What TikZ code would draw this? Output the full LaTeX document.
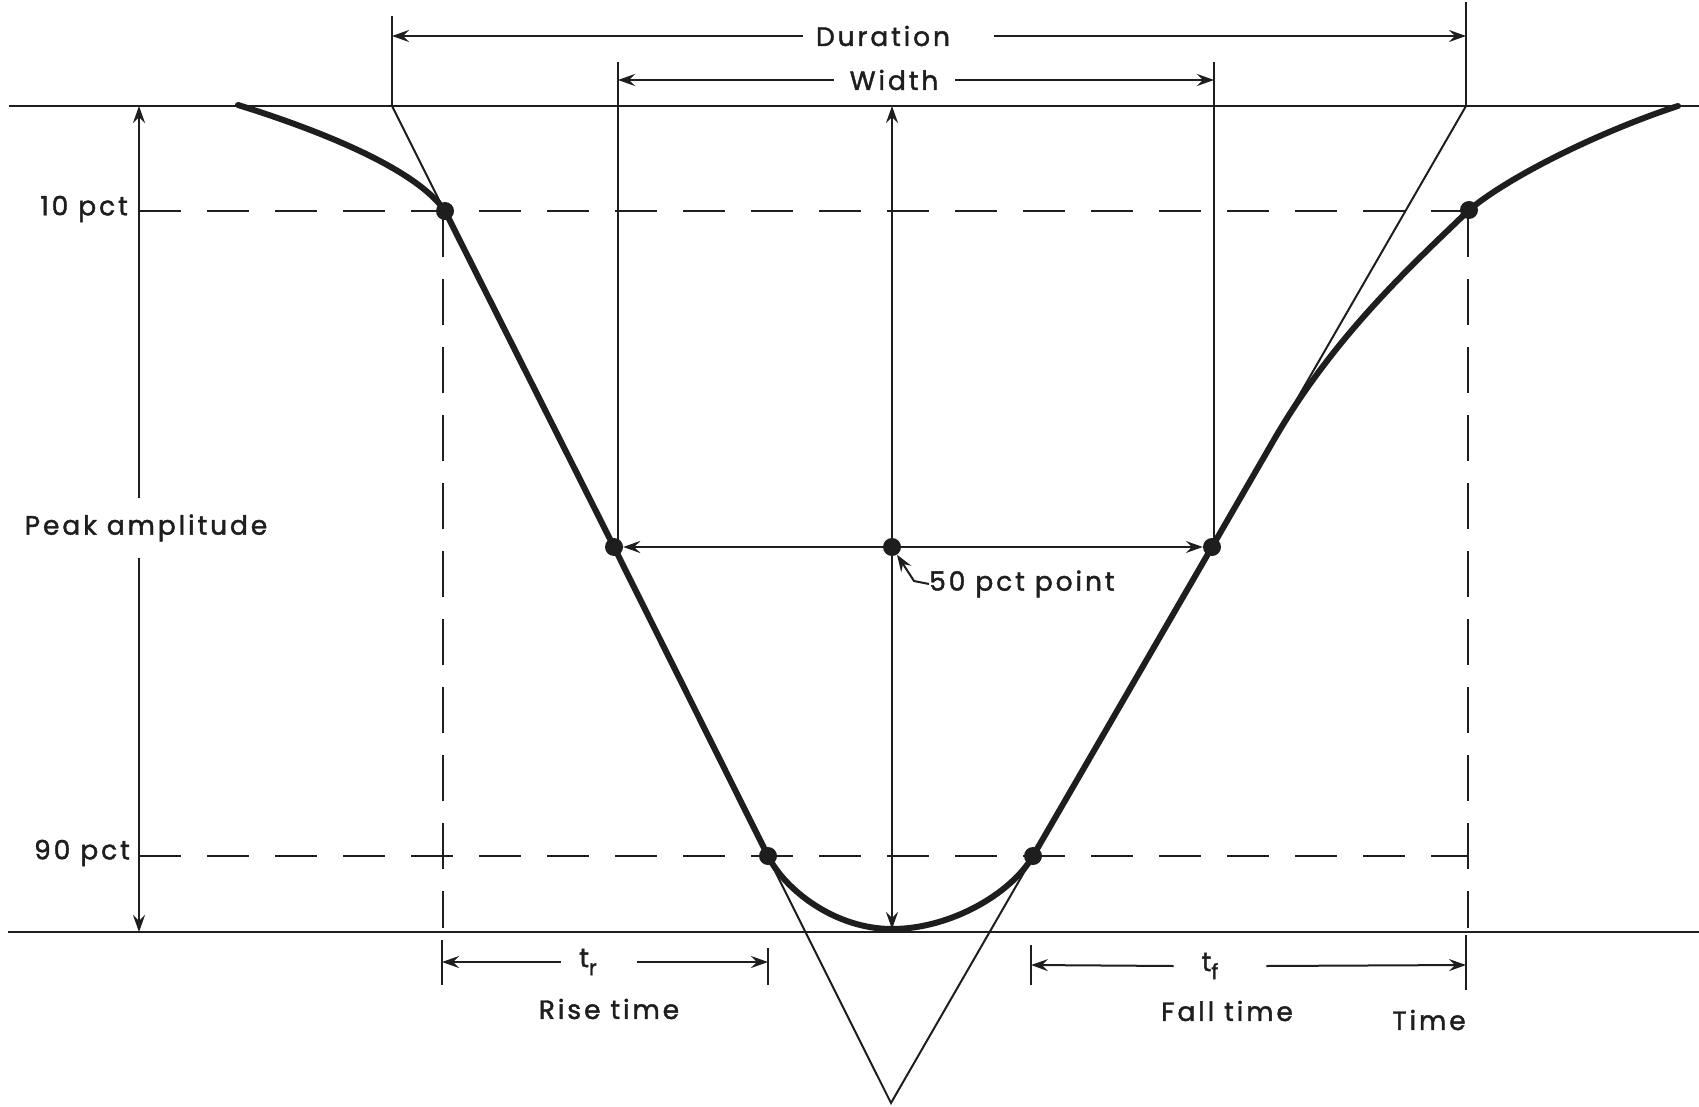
\documentclass[tikz,border=0pt]{standalone}
\usepackage{fontspec}
\setmainfont{Poppins}[LetterSpace=11, FakeBold=1.6]
\usetikzlibrary{arrows.meta}
\definecolor{ink}{HTML}{1E1E1E}
\begin{document}
\begin{tikzpicture}[x=1pt,y=-1pt,
  thinl/.style={line width=2pt, draw=ink},
  curve/.style={line width=6pt, draw=ink, line join=round, line cap=round},
  dashl/.style={line width=2.2pt, draw=ink, dash pattern=on 42pt off 26pt},
  dashv/.style={line width=2.2pt, draw=ink, dash pattern=on 46pt off 22pt},
  arr/.style={-{Stealth[length=17pt,width=12pt,inset=6pt]}},
  darr/.style={{Stealth[length=17pt,width=12pt,inset=6pt]}-{Stealth[length=17pt,width=12pt,inset=6pt]}},
  dotnode/.style={circle, fill=ink, inner sep=0pt, minimum size=18pt},
  lbl/.style={font=\fontsize{26.5}{30}\selectfont, inner sep=0pt, text=ink}
]
\useasboundingbox (0,0) rectangle (1699,1107);

% base lines
\coordinate (TL) at (9,106);
\coordinate (TR) at (1699,106);
\coordinate (BL) at (8,932);
\coordinate (BR) at (1699,932);
\draw[thinl] (TL) -- (TR);
\draw[thinl] (BL) -- (BR);

% tangent lines
\coordinate (tanL) at (392,106);
\coordinate (tanR) at (1466,106);
\coordinate (apex) at (891,1103);
\draw[thinl] (tanL) -- (apex) -- (tanR);

% dashed level lines
\coordinate (h10a) at (139,211);
\coordinate (h10b) at (1469,211);
\coordinate (h90a) at (139,856);
\coordinate (h90b) at (1468,856);
\draw[dashl] (h10a) -- (h10b);
\draw[dashl] (h90a) -- (h90b);
\coordinate (vLa) at (443,211);
\coordinate (vLb) at (443,928);
\coordinate (vRa) at (1468,211);
\coordinate (vRb) at (1468,928);
\draw[dashv] (vLa) -- (vLb);
\draw[dashv] (vRa) -- (vRb);

% duration
\node[lbl] (lDur) at (883,36) {Duration};
\coordinate (durL) at (392,36);
\coordinate (durR) at (1466,36);
\coordinate (durLt) at (392,16);
\coordinate (durRt) at (1466,2);
\draw[thinl] (durLt) -- (tanL);
\draw[thinl] (durRt) -- (tanR);
\draw[thinl, arr] ([xshift=-13pt]lDur.west) -- (durL);
\draw[thinl, arr] ([xshift=44pt]lDur.east) -- (durR);

% width
\node[lbl] (lWid) at (894,80) {Width};
\coordinate (widL) at (618,80);
\coordinate (widR) at (1214,80);
\coordinate (widLt) at (618,62);
\coordinate (widRt) at (1214,62);
\coordinate (widLb) at (618,545);
\coordinate (widRb) at (1214,545);
\draw[thinl] (widLt) -- (widLb);
\draw[thinl] (widRt) -- (widRb);
\draw[thinl, arr] ([xshift=-16pt]lWid.west) -- (widL);
\draw[thinl, arr] ([xshift=17pt]lWid.east) -- (widR);

% central amplitude arrow
\coordinate (cTop) at (892,106);
\coordinate (cBot) at (892,929);
\draw[thinl, darr] (cTop) -- (cBot);

% peak amplitude arrow
\coordinate (pTop) at (139,106);
\coordinate (pBot) at (139,932);
\draw[thinl, darr] (pTop) -- (pBot);
\node[lbl, fill=white, inner ysep=16pt, inner xsep=0pt] (lPeak) at (146,528) {Peak amplitude};

% dots
\node[dotnode] (d10L) at (445,211) {};
\node[dotnode] (d50L) at (614,547) {};
\node[dotnode] (d90L) at (768,856) {};
\node[dotnode] (d50C) at (892,547) {};
\node[dotnode] (d50R) at (1212,547) {};
\node[dotnode] (d90R) at (1033,856) {};
\node[dotnode] (d10R) at (1469,210) {};

% 50 pct width arrow
\draw[thinl, darr] (d50L) -- (d50R);

% pulse curve
\draw[curve] (238,105) .. controls (312,128) and (415,167) .. (d10L.center)
  -- (d50L.center) -- (d90L.center)
  .. controls (785,890) and (835,929) .. (892,929)
  .. controls (950,929) and (1011,894) .. (d90R.center)
  -- (d50R.center) -- (1275,438)
  .. controls (1338,330) and (1420,258) .. (d10R.center)
  .. controls (1515,172) and (1610,128) .. (1678,106);

% level labels
\node[lbl, anchor=east] (l10) at (128,209) {10 pct};
\node[lbl, anchor=east] (l90) at (130,853) {90 pct};

% 50 pct point label
\node[lbl, anchor=west] (l50) at (929,584) {50 pct point};
\coordinate (l50k) at (914,581);
\draw[thinl, arr] (l50.west) -- (l50k) -- (d50C);

% rise time
\node[lbl] (lTr) at (588,962) {t\raisebox{-8pt}{\fontsize{21}{21}\selectfont r}};
\coordinate (trL) at (442,962);
\coordinate (trR) at (768,962);
\coordinate (trLa) at (442,940);
\coordinate (trLb) at (442,985);
\coordinate (trRa) at (768,948);
\coordinate (trRb) at (768,985);
\draw[thinl] (trLa) -- (trLb);
\draw[thinl] (trRa) -- (trRb);
\draw[thinl, arr] ([xshift=-18pt]lTr.west) -- (trL);
\draw[thinl, arr] ([xshift=40pt]lTr.east) -- (trR);
\node[lbl] (lRise) at (609,1009) {Rise time};

% fall time
\node[lbl] (lTf) at (1210,966) {t\raisebox{-8pt}{\fontsize{21}{21}\selectfont f}};
\coordinate (tfL) at (1031,965);
\coordinate (tfR) at (1466,965);
\coordinate (tfLa) at (1031,945);
\coordinate (tfLb) at (1031,985);
\coordinate (tfRa) at (1466,935);
\coordinate (tfRb) at (1466,990);
\draw[thinl] (tfLa) -- (tfLb);
\draw[thinl] (tfRa) -- (tfRb);
\draw[thinl, arr] ([xshift=-28pt]lTf.west) -- (tfL);
\draw[thinl, arr] ([xshift=48pt]lTf.east) -- (tfR);
\node[lbl] (lFall) at (1227,1011) {Fall time};
\node[lbl] (lTime) at (1429,1020) {Time};
\end{tikzpicture}
\end{document}
